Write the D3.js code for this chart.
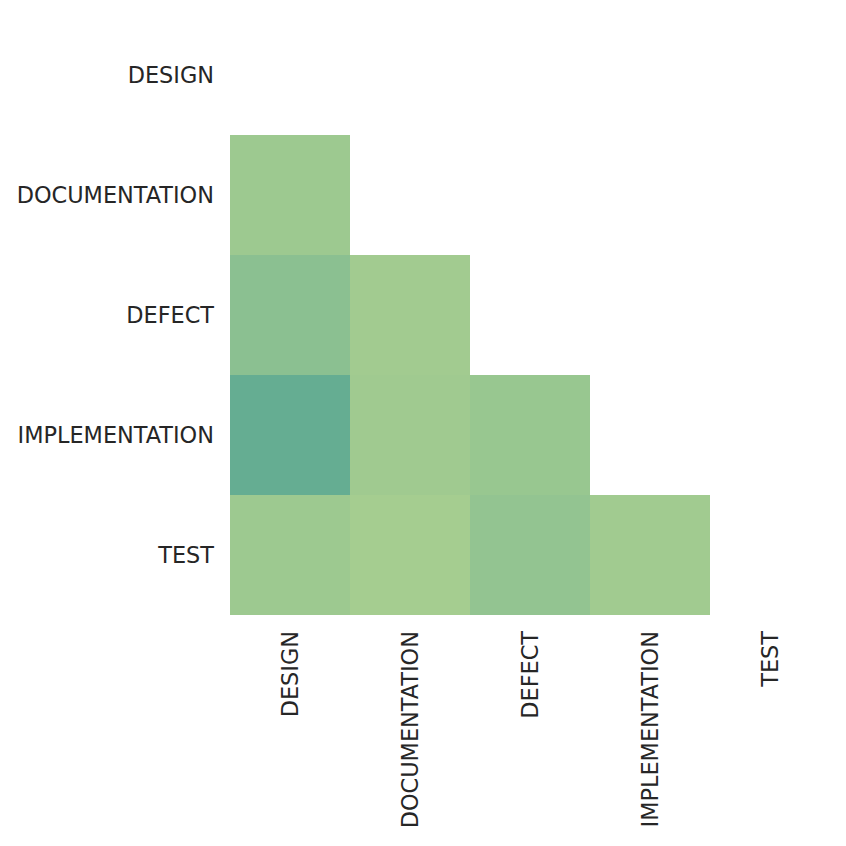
<!DOCTYPE html>
<html><head><meta charset="utf-8">
<script src="https://cdn.jsdelivr.net/npm/d3@7"></script>
<style>body{margin:0;background:#fff}text{font-family:"DejaVu Sans",sans-serif;fill:#262626}</style>
</head><body><svg id="c" width="846" height="846"></svg>
<script>
const categories = ["DESIGN","DOCUMENTATION","DEFECT","IMPLEMENTATION","TEST"];
// lower-triangle values (row, col) -> normalized position on colormap
const rows = ["DOCUMENTATION","DEFECT","DEFECT","IMPLEMENTATION","IMPLEMENTATION","IMPLEMENTATION","TEST","TEST","TEST","TEST"];
const cols = ["DESIGN","DESIGN","DOCUMENTATION","DESIGN","DOCUMENTATION","DEFECT","DESIGN","DOCUMENTATION","DEFECT","IMPLEMENTATION"];
const values = [0.03,0.10,0.012,0.25,0.02,0.05,0.03,0.0,0.07,0.015];
const colorStops = ["#a5cd90","#65ad92","#3a8e8d","#2d6a8a","#2c3172"];

const svg = d3.select("#c");
const x = d3.scaleBand().domain(categories).range([230,830]);
const y = d3.scaleBand().domain(categories).range([15,615]);
const color = d3.scaleLinear().domain([0,0.25,0.5,0.75,1]).range(colorStops);

const cells = values.map((v,i)=>({r:rows[i],c:cols[i],v}));
svg.append("g").selectAll("rect").data(cells).join("rect")
  .attr("x",d=>x(d.c)).attr("y",d=>y(d.r))
  .attr("width",x.bandwidth()).attr("height",y.bandwidth())
  .attr("fill",d=>color(d.v));

svg.append("g").selectAll("text").data(categories).join("text")
  .attr("x",214).attr("y",d=>y(d)+y.bandwidth()/2)
  .attr("text-anchor","end").attr("dominant-baseline","central")
  .attr("font-size",22.4).text(d=>d);

svg.append("g").selectAll("text").data(categories).join("text")
  .attr("transform",d=>`translate(${x(d)+x.bandwidth()/2},631) rotate(-90)`)
  .attr("text-anchor","end").attr("dominant-baseline","central")
  .attr("font-size",22.4).text(d=>d);
</script></body></html>
